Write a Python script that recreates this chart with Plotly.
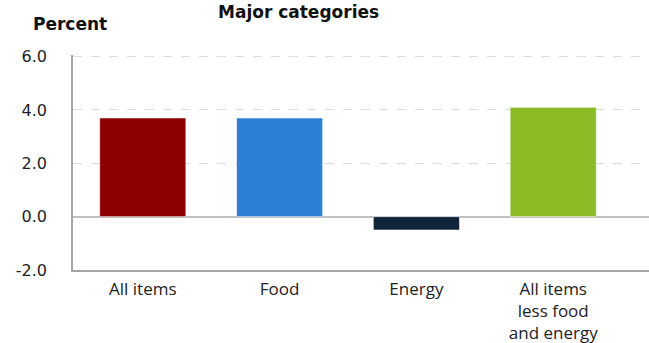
import plotly.graph_objects as go

categories = ["All items", "Food", "Energy", "All items<br>less food<br>and energy"]
values = [3.7, 3.7, -0.5, 4.1]
colors = ["#8E0000", "#2E7FD8", "#0F233A", "#8BBA24"]
y_ticks = [-2.0, 0.0, 2.0, 4.0, 6.0]
y_tick_labels = ["-2.0", "0.0", "2.0", "4.0", "6.0"]

W, H = 649, 343
ML, MT, MB, MR = 73, 55, 73, 0

fig = go.Figure()
fig.add_trace(go.Bar(
    x=list(range(len(categories))),
    y=values,
    marker=dict(color=colors, line=dict(color="rgba(255,255,255,0.6)", width=1)),
    width=0.63,
    hoverinfo="skip",
))

fig.update_layout(
    width=W, height=H,
    margin=dict(l=ML, r=MR, t=MT, b=MB, autoexpand=False),
    plot_bgcolor="white", paper_bgcolor="white",
    showlegend=False,
    font=dict(family="DejaVu Sans", color="#222"),
    xaxis=dict(
        range=[-0.51, 3.7],
        tickmode="array",
        tickvals=list(range(len(categories))),
        ticktext=categories,
        tickfont=dict(family="Open Sans", size=17, color="#222"),
        showgrid=False, zeroline=False,
        showline=True, linecolor="#A6A6A6", linewidth=1.5,
        ticks="outside", ticklen=3, tickcolor="rgba(0,0,0,0)",
    ),
    yaxis=dict(
        range=[-2, 6.06],
        tickmode="array",
        tickvals=y_ticks,
        ticktext=y_tick_labels,
        tickfont=dict(family="DejaVu Sans", size=16, color="#222"),
        showgrid=True, gridcolor="#DDDDDD", griddash="dash", gridwidth=1,
        zeroline=True, zerolinecolor="#BFBFBF", zerolinewidth=1.5,
        showline=True, linecolor="#A6A6A6", linewidth=1.5,
        ticks="outside", ticklen=21, tickcolor="rgba(0,0,0,0)",
    ),
)

pw = W - ML - MR
ph = H - MT - MB
def px_to_paper(wx, wy):
    return (wx - ML) / pw, (H - MB - wy) / ph

for txt, wx, wy in [("<b>Major categories</b>", 298, 12), ("<b>Percent</b>", 70, 24)]:
    ax, ay = px_to_paper(wx, wy)
    fig.add_annotation(text=txt, x=ax, y=ay, xref="paper", yref="paper",
                       xanchor="center", yanchor="middle", showarrow=False,
                       font=dict(family="DejaVu Sans", size=17, color="#111"))

fig.write_html("out.html", config={"displayModeBar": False},
               post_script="document.body.style.margin='0';")
